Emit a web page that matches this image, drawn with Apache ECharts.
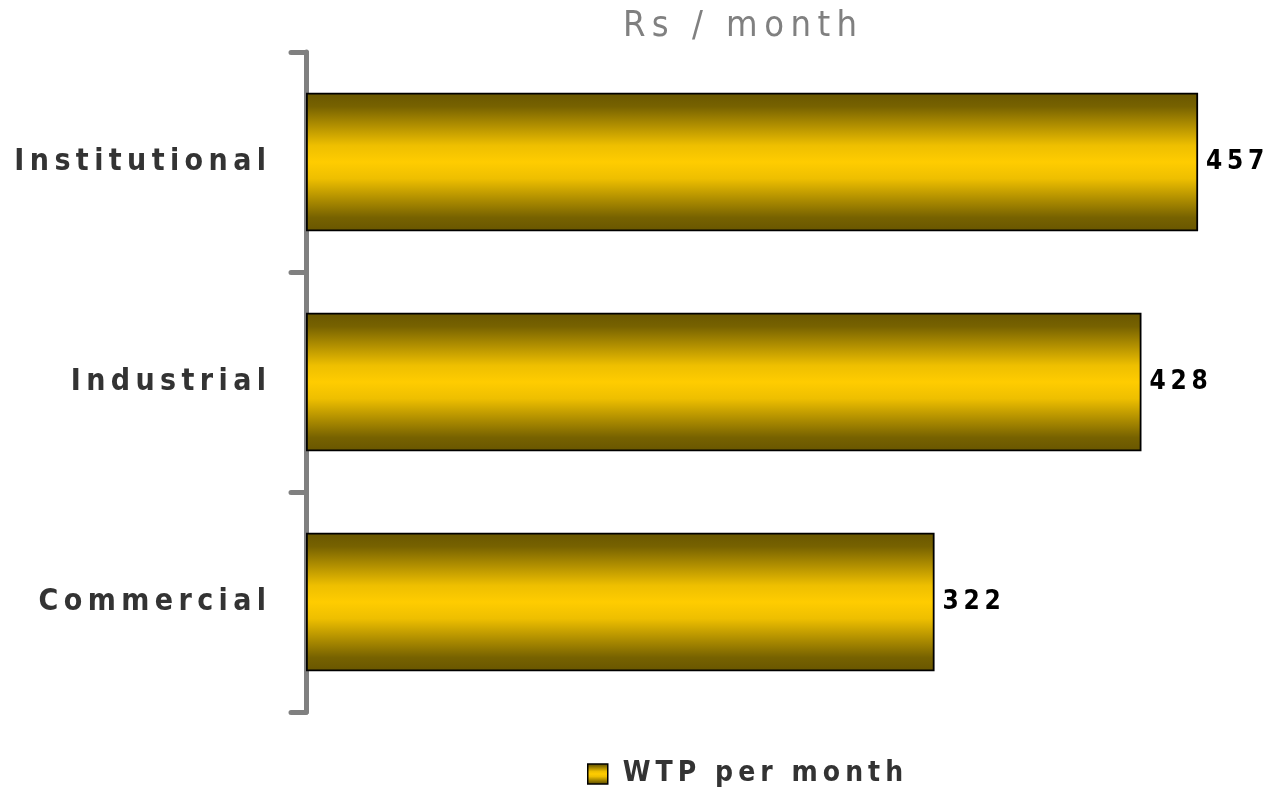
<!DOCTYPE html>
<html>
<head>
<meta charset="utf-8">
<style>
  html, body { margin: 0; padding: 0; background: #ffffff; }
  #chart { width: 1265px; height: 799px; }
</style>
<script src="https://cdn.jsdelivr.net/npm/echarts@6/dist/echarts.min.js"></script>
</head>
<body>
<div id="chart"></div>
<script>
// Willingness to pay, by consumer category
const categories = ['Institutional', 'Industrial', 'Commercial'];
const wtpValues = [457, 428, 322];
const seriesName = 'WTP per month';
const axisTitle = 'Rs / month';

// spread letters out for the wide-tracked look
const spaced = (s, sep) => s.split('').join(sep);

const FONT = '"DejaVu Sans Condensed", "Liberation Sans Narrow", sans-serif';

// dark-gold / bright-gold / dark-gold cylinder shading
const goldFill = () => new echarts.graphic.LinearGradient(0, 0, 0, 1, [
  { offset: 0, color: '#685600' },
  { offset: 0.1, color: '#776200' },
  { offset: 0.38, color: '#eebf00' },
  { offset: 0.5, color: '#ffcc00' },
  { offset: 0.62, color: '#eebf00' },
  { offset: 0.9, color: '#776200' },
  { offset: 1, color: '#685600' }
]);

const chart = echarts.init(document.getElementById('chart'));
chart.setOption({
  animation: false,
  title: {
    text: spaced(axisTitle, '\u2009'),
    left: 735,
    textAlign: 'center',
    top: 4,
    textStyle: { fontFamily: FONT, fontWeight: 'normal', fontSize: 36, color: '#808080' }
  },
  legend: {
    bottom: 6,
    left: 582,
    itemWidth: 20,
    itemHeight: 20,
    itemGap: 10,
    formatter: n => spaced(n, '\u2009'),
    textStyle: { fontFamily: FONT, fontWeight: 'bold', fontSize: 28, color: '#333333', padding: [0, 0, 0, 10] },
    data: [{ name: seriesName, icon: 'rect', itemStyle: { color: goldFill(), borderColor: '#000', borderWidth: 1.5 } }]
  },
  grid: { left: 306, top: 52, width: 937, height: 660, containLabel: false, outerBoundsMode: 'none' },
  xAxis: {
    type: 'value', min: 0, max: 480,
    show: false
  },
  yAxis: {
    type: 'category',
    data: categories,
    inverse: true,
    axisLine: { show: true, lineStyle: { color: '#808080', width: 5, cap: 'round' } },
    axisTick: { show: true, length: 15, lineStyle: { color: '#808080', width: 5, cap: 'round' } },
    axisLabel: {
      margin: 40,
      formatter: v => spaced(v, '\u2009'),
      fontFamily: FONT, fontWeight: 'bold', fontSize: 30, color: '#333333'
    },
    splitLine: { show: false }
  },
  series: [{
    name: seriesName,
    type: 'bar',
    data: wtpValues,
    barCategoryGap: '37%',
    itemStyle: { color: goldFill(), borderColor: '#000000', borderWidth: 1.8 },
    label: {
      show: true, position: 'right', distance: 8,
      formatter: p => spaced(String(p.value), '\u2009'),
      fontFamily: FONT, fontWeight: 'bold', fontSize: 26, color: '#000000'
    }
  }]
});
</script>
</body>
</html>
